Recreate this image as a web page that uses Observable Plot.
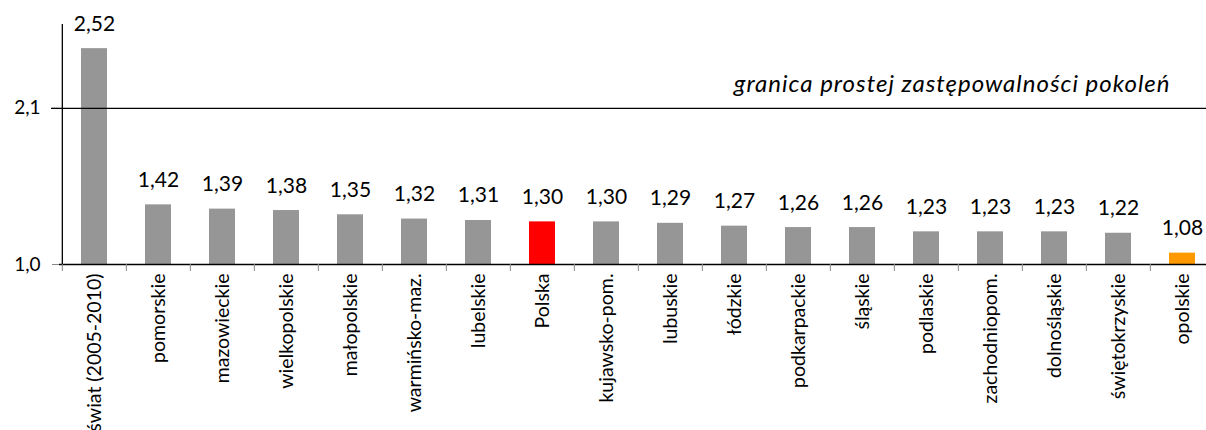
<!DOCTYPE html>
<html>
<head>
<meta charset="utf-8">
<script src="https://cdn.jsdelivr.net/npm/d3@7"></script>
<script src="https://cdn.jsdelivr.net/npm/@observablehq/plot@0.6"></script>
<style>
  html, body { margin: 0; padding: 0; background: #fff; overflow: hidden; width: 1206px; height: 430px; }
  #chart svg { display: block; max-width: none !important; }
</style>
</head>
<body>
<div id="chart"></div>
<script>
const categories = ["świat (2005-2010)", "pomorskie", "mazowieckie", "wielkopolskie", "małopolskie",
  "warmińsko-maz.", "lubelskie", "Polska", "kujawsko-pom.", "lubuskie", "łódzkie", "podkarpackie",
  "śląskie", "podlaskie", "zachodniopom.", "dolnośląskie", "świętokrzyskie", "opolskie"];
const values = [2.52, 1.42, 1.39, 1.38, 1.35, 1.32, 1.31, 1.30, 1.30, 1.29, 1.27, 1.26, 1.26, 1.23, 1.23, 1.23, 1.22, 1.08];
const barColors = categories.map(c => c === "Polska" ? "#ff0000" : c === "opolskie" ? "#ff9900" : "#969696");
const yTicks = [1.0, 2.1];
const threshold = 2.1;
const thresholdLabel = "granica prostej zastępowalności pokoleń";

const data = categories.map((c, i) => ({category: c, value: values[i], color: barColors[i]}));
const fmt = v => v.toFixed(2).replace(".", ",");
const fmtAxis = v => v.toFixed(1).replace(".", ",");

const W = 1220, mL = 59, mR = 3;
const step = (W - mL - mR) / categories.length;
const font = "Lato, 'Noto Sans', sans-serif";

const chart = Plot.plot({
  width: W,
  height: 430,
  marginLeft: mL,
  marginRight: mR,
  marginTop: 24,
  marginBottom: 166,
  style: {fontFamily: font, fontSize: "19px", color: "#000", background: "#fff", maxWidth: "none"},
  x: {type: "band", domain: categories, paddingInner: 0.6, paddingOuter: 0.3, label: null},
  y: {domain: [1.0, 2.69], label: null},
  marks: [
    Plot.barY(data, {x: "category", y1: 1.0, y2: "value", fill: "color"}),
    Plot.text(data, {x: "category", y: "value", text: d => fmt(d.value), lineAnchor: "bottom", dy: -18, fontSize: 21, fill: "#000"}),
    Plot.axisY({ticks: yTicks, tickFormat: fmtAxis, tickSize: 7, tickPadding: 12, stroke: "#888", fontSize: 19, fill: "#000"}),
    Plot.ruleY([threshold], {stroke: "#000", strokeWidth: 1.3, insetLeft: -8}),
    Plot.ruleY([1.0], {stroke: "#000", strokeWidth: 1.3}),
    Plot.ruleX([categories[0]], {x: d => d, dx: -step / 2, y1: 1.0, y2: 2.69, stroke: "#000", strokeWidth: 1.3}),
    Plot.axisX({tickSize: 7, tickFormat: () => "", dx: -step / 2, stroke: "#888"}),
    Plot.axisX({tickSize: 0, tickPadding: 9, tickRotate: -90, fontSize: 19.5, fill: "#000"}),
    Plot.text([thresholdLabel], {x: () => categories[categories.length - 1], y: () => threshold, text: d => d, textAnchor: "end", dx: -12, dy: -24, fontSize: 24, fontStyle: "italic", fill: "#000"})
  ]
});
d3.select(chart).selectAll("text")
  .filter(function () { return this.textContent === thresholdLabel; })
  .attr("letter-spacing", "1px");
document.getElementById("chart").appendChild(chart);
</script>
</body>
</html>
